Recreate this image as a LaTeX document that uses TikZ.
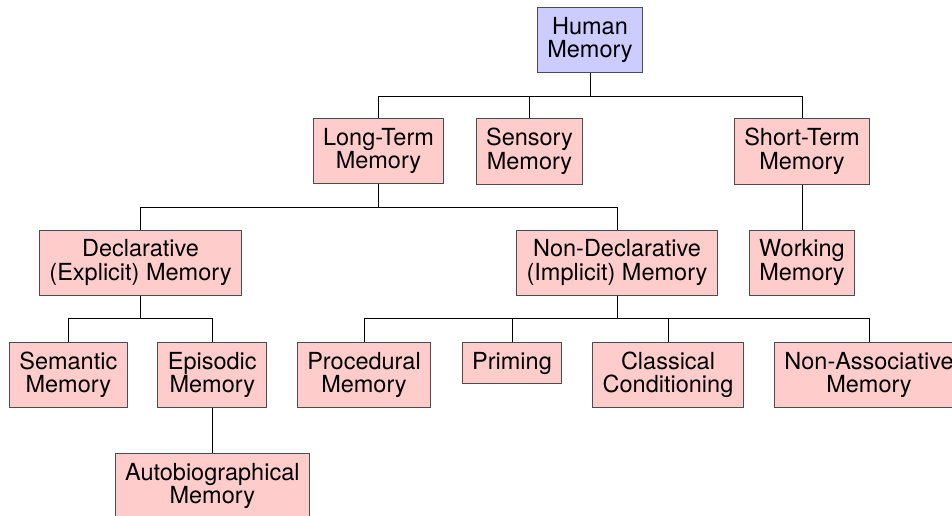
\documentclass[tikz,border=0pt]{standalone}
\usepackage{fontspec}
\setmainfont{TeX Gyre Heros}
\usetikzlibrary{shapes,arrows}

\begin{document}
\begin{tikzpicture}[x=1pt, y=-1pt, font=\fontsize{23.5}{23.5}\selectfont, line width=0.9pt]
      \tikzstyle{memory}=[rectangle, draw=black!70, fill=red!20, align=center, anchor=north, inner xsep=10pt, inner ysep=9.75pt]
      \tikzstyle{root}=[memory, fill=blue!20]
      \tikzstyle{branch}=[to path={-- ++(0,23) -| (\tikztotarget)}]
      \path[use as bounding box, clip] (0,0) rectangle (952,516);
      \node[root] (human) at (590,7) {Human\\Memory};
      \node[memory] (longterm) at (378.5,118) {Long-Term\\Memory};
      \node[memory] (sensory) at (529.5,118) {Sensory\\Memory};
      \node[memory] (shortterm) at (802,118) {Short-Term\\Memory};
      \node[memory] (declarative) at (140.5,229.5) {Declarative\\(Explicit) Memory};
      \node[memory] (nondeclarative) at (617,229.5) {Non-Declarative\\(Implicit) Memory};
      \node[memory] (working) at (802,229.5) {Working\\Memory};
      \node[memory] (semantic) at (68.3,341.7) {Semantic\\Memory};
      \node[memory] (episodic) at (212.3,341.7) {Episodic\\Memory};
      \node[memory] (procedural) at (364,341.7) {Procedural\\Memory};
      \node[memory] (priming) at (512,341.7) {Priming};
      \node[memory] (classical) at (668,341.7) {Classical\\Conditioning};
      \node[memory] (nonassociative) at (869,341.7) {Non-Associative\\Memory};
      \node[memory] (autobiographical) at (212.3,453) {Autobiographical\\Memory};
      \path
      (human.south) edge[branch] (longterm.north)
      (human.south) edge[branch] (sensory.north)
      (human.south) edge[branch] (shortterm.north)
      (longterm.south) edge[branch] (declarative.north)
      (longterm.south) edge[branch] (nondeclarative.north)
      (shortterm.south) edge[branch] (working.north)
      (declarative.south) edge[branch] (semantic.north)
      (declarative.south) edge[branch] (episodic.north)
      (nondeclarative.south) edge[branch] (procedural.north)
      (nondeclarative.south) edge[branch] (priming.north)
      (nondeclarative.south) edge[branch] (classical.north)
      (nondeclarative.south) edge[branch] (nonassociative.north)
      (episodic.south) edge[branch] (autobiographical.north);
    \end{tikzpicture}
\end{document}
